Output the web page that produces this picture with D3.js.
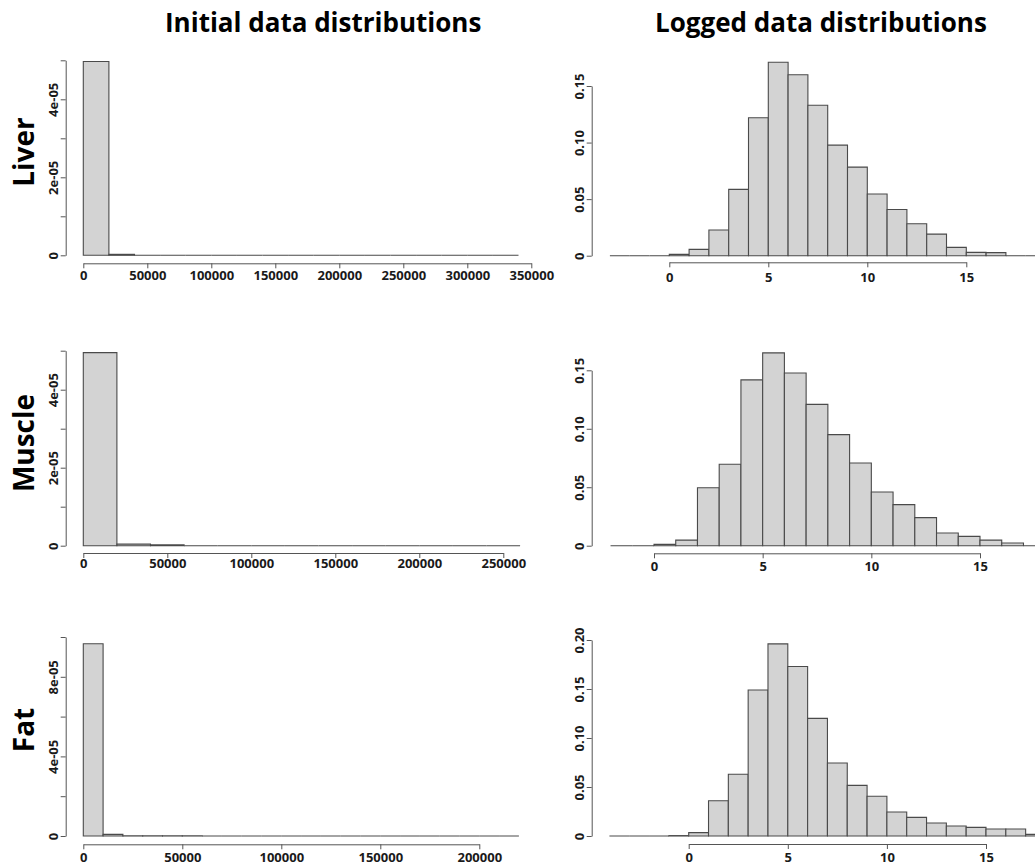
<!DOCTYPE html>
<html>
<head>
<meta charset="utf-8">
<script src="https://cdn.jsdelivr.net/npm/d3@7"></script>
<style>
  html, body { margin: 0; padding: 0; background: #fff; }
  svg { display: block; }
  text { font-family: "Open Sans", "DejaVu Sans", sans-serif; font-weight: bold; }
</style>
</head>
<body>
<svg id="chart" width="1035" height="865"></svg>
<script>
// ---------------- DATA ----------------
const tissues = ["Liver", "Muscle", "Fat"];
const columnTitles = ["Initial data distributions", "Logged data distributions"];

// Raw-value histograms (density per bin), bins start at 0
const rawBinWidth = [20000, 20000, 10000];
const liverRaw  = [4.97e-05, 2.5e-07, 0, 0, 0, 0, 0, 0, 0, 0, 0, 0, 0, 0, 0, 0, 0];
const muscleRaw = [4.95e-05, 4e-07, 2e-07, 0, 0, 0, 0, 0, 0, 0, 0, 0, 0];
const fatRaw    = [9.66e-05, 8e-07, 1e-07, 1e-07, 1e-07, 1e-07, 0, 0, 0, 0, 0, 0, 0, 0, 0, 0, 0, 0, 0, 0, 0, 0];

// Logged-value histograms (density per unit bin)
const logBinStart = [-3, -2, -4];
const logBinWidth = 1;
const liverLog  = [0, 0, 0, 0.0012, 0.0056, 0.0227, 0.0586, 0.1219, 0.171, 0.160, 0.133, 0.0977, 0.0783, 0.0545, 0.0409, 0.0283, 0.0191, 0.0074, 0.0029, 0.0027, 0, 0];
const muscleLog = [0, 0, 0.0011, 0.0048, 0.0496, 0.0696, 0.1418, 0.1649, 0.1477, 0.1209, 0.0950, 0.0707, 0.0459, 0.0351, 0.0240, 0.0108, 0.0080, 0.0048, 0.0023, 0];
const fatLog    = [0, 0, 0, 0.0004, 0.0034, 0.036, 0.063, 0.149, 0.196, 0.173, 0.120, 0.0745, 0.0517, 0.0405, 0.0245, 0.019, 0.0133, 0.0102, 0.0088, 0.0071, 0.0071, 0.0017];

// Tick values and labels
const liverRawXTicks  = [0, 50000, 100000, 150000, 200000, 250000, 300000, 350000];
const muscleRawXTicks = [0, 50000, 100000, 150000, 200000, 250000];
const fatRawXTicks    = [0, 50000, 100000, 150000, 200000];
const rawYTicks       = [0, 1e-05, 2e-05, 3e-05, 4e-05, 5e-05];
const rawYLabels      = ["0", "", "2e-05", "", "4e-05", ""];
const fatRawYTicks    = [0, 2e-05, 4e-05, 6e-05, 8e-05, 1e-04];
const fatRawYLabels   = ["0", "", "4e-05", "", "8e-05", ""];
const logXTicks       = [0, 5, 10, 15];
const logYTicks       = [0, 0.05, 0.10, 0.15];
const logYLabels      = ["0", "0.05", "0.10", "0.15"];
const fatLogYTicks    = [0, 0.05, 0.10, 0.15, 0.20];
const fatLogYLabels   = ["0", "0.05", "0.10", "0.15", "0.20"];

// ---------------- LAYOUT ----------------
const panels = [
  { vals: liverRaw,  start: 0, width: rawBinWidth[0], xTicks: liverRawXTicks,  yTicks: rawYTicks,    yLabels: rawYLabels,
    xr: [83.3, 531.3], yr: [255.3, 60.3], yAxisX: 65.7,  xAxisY: 263.3, xLabelY: 280 },
  { vals: muscleRaw, start: 0, width: rawBinWidth[1], xTicks: muscleRawXTicks, yTicks: rawYTicks,    yLabels: rawYLabels,
    xr: [83.3, 503.3], yr: [545.7, 350.7], yAxisX: 65.7, xAxisY: 553,   xLabelY: 568 },
  { vals: fatRaw,    start: 0, width: rawBinWidth[2], xTicks: fatRawXTicks,    yTicks: fatRawYTicks, yLabels: fatRawYLabels,
    xr: [83.3, 479.3], yr: [836, 637],     yAxisX: 65.7, xAxisY: 844.3, xLabelY: 862 },
  { vals: liverLog,  start: logBinStart[0], width: logBinWidth, xTicks: logXTicks, yTicks: logYTicks, yLabels: logYLabels,
    xr: [669.3, 966.3], yr: [255.7, 86],   yAxisX: 591.7, xAxisY: 262.3, xLabelY: 282 },
  { vals: muscleLog, start: logBinStart[1], width: logBinWidth, xTicks: logXTicks, yTicks: logYTicks, yLabels: logYLabels,
    xr: [654, 980],     yr: [545.7, 370.3], yAxisX: 591.7, xAxisY: 553.3, xLabelY: 571 },
  { vals: fatLog,    start: logBinStart[2], width: logBinWidth, xTicks: logXTicks, yTicks: fatLogYTicks, yLabels: fatLogYLabels,
    xr: [688.7, 986],   yr: [836, 640],     yAxisX: 591.7, xAxisY: 844,   xLabelY: 862 }
];

const svg = d3.select("#chart");
const AXIS = "#555";

panels.forEach(p => {
  const x = d3.scaleLinear().domain([p.xTicks[0], p.xTicks[p.xTicks.length - 1]]).range(p.xr);
  const y = d3.scaleLinear().domain([p.yTicks[0], p.yTicks[p.yTicks.length - 1]]).range(p.yr);
  const g = svg.append("g");

  // bars (paths so zero-height bins show as a baseline line)
  const bins = p.vals.map((v, i) => ({ x0: p.start + i * p.width, x1: p.start + (i + 1) * p.width, v }));
  g.selectAll("path.bar").data(bins).join("path")
    .attr("class", "bar")
    .attr("d", d => {
      const X0 = x(d.x0), X1 = x(d.x1), Y0 = y(0), Y1 = y(d.v);
      return `M${X0},${Y0}V${Y1}H${X1}V${Y0}Z`;
    })
    .attr("fill", "#d3d3d3")
    .attr("stroke", "#4a4a4a")
    .attr("stroke-width", 1.1);

  // x axis
  const xa = g.append("g").attr("transform", `translate(0,${p.xAxisY})`)
    .call(d3.axisBottom(x).tickValues(p.xTicks).tickSize(5).tickSizeOuter(0).tickFormat(d3.format("d")));
  xa.select(".domain").attr("stroke", AXIS);
  xa.selectAll(".tick line").attr("stroke", AXIS);
  xa.selectAll(".tick text")
    .attr("y", p.xLabelY - p.xAxisY).attr("dy", 0)
    .attr("font-size", 13).attr("fill", "#1a1a1a")
    .style("font-family", "'Open Sans', sans-serif").style("font-weight", "bold");

  // y axis
  const ya = g.append("g").attr("transform", `translate(${p.yAxisX},0)`)
    .call(d3.axisLeft(y).tickValues(p.yTicks).tickSize(5).tickSizeOuter(0).tickFormat((d, i) => p.yLabels[i]));
  ya.select(".domain").attr("stroke", AXIS);
  ya.selectAll(".tick line").attr("stroke", AXIS);
  ya.selectAll(".tick text")
    .attr("x", 0).attr("y", 0).attr("dy", 0)
    .attr("text-anchor", "middle")
    .attr("transform", "translate(-7.5,0) rotate(-90)")
    .attr("font-size", 13).attr("fill", "#1a1a1a")
    .style("font-family", "'Open Sans', sans-serif").style("font-weight", "bold");
});

// Column titles
const titlePos = [{ x: 165, y: 32 }, { x: 655, y: 32 }];
svg.selectAll("text.coltitle").data(columnTitles).join("text")
  .attr("class", "coltitle")
  .attr("x", (d, i) => titlePos[i].x)
  .attr("y", (d, i) => titlePos[i].y)
  .attr("font-size", 26)
  .attr("fill", "#000")
  .text(d => d);

// Row titles
const rowCenters = [152, 443, 730];
svg.selectAll("text.rowtitle").data(tissues).join("text")
  .attr("class", "rowtitle")
  .attr("text-anchor", "middle")
  .attr("transform", (d, i) => `translate(34,${rowCenters[i]}) rotate(-90)`)
  .attr("font-size", 28)
  .attr("fill", "#000")
  .text(d => d);
</script>
</body>
</html>
